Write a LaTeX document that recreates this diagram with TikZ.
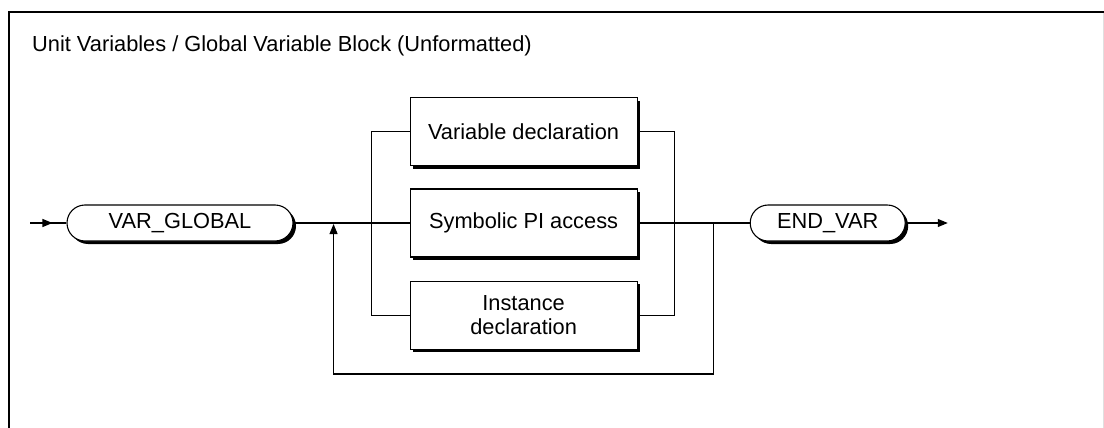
\documentclass[tikz,border=0pt]{standalone}
\usepackage{fontspec}
\setmainfont{Liberation Sans}
\usepackage{tikz}
\usetikzlibrary{shapes.misc,arrows.meta,positioning,shadows,calc}
\newcommand\diagfont{\fontsize{21.8}{24}\selectfont}
\tikzset{
  termnode/.style={rounded rectangle,draw=black,line width=1.1pt,fill=white,
    minimum height=36pt,inner sep=0pt,text centered,font=\diagfont,
    drop shadow={shadow xshift=3pt,shadow yshift=-3pt,fill=black,opacity=1}},
  rulenode/.style={rectangle,draw=black,line width=1.1pt,fill=white,
    minimum width=227pt,minimum height=68pt,inner sep=0pt,align=center,
    font=\diagfont,
    drop shadow={shadow xshift=3pt,shadow yshift=-3pt,fill=black,opacity=1}},
  line/.style={line width=1.1pt},
  arrow/.style={-{Triangle[length=10pt,width=8pt]},line width=1.1pt},
  framestyle/.style={line width=2.2pt},
}

\begin{document}
\begin{tikzpicture}[x=1pt,y=-1pt]

  \useasboundingbox (0,0) rectangle (1104,428);

  %% ── Frame and title ───────────────────────────────────────────────────────
  \draw[framestyle] (9,429) -- (9,12) -- (1104,12);
  \draw[black!12,line width=0.8pt] (1103.4,13) -- (1103.4,428);
  \node[anchor=base west,inner sep=0pt,font=\diagfont] (title) at (32,52)
    {Unit Variables / Global Variable Block (Unformatted)};

  %% ── Keywords and rule boxes ───────────────────────────────────────────────
  \node[termnode,minimum width=226pt] (vglobal) at (180,223) {VAR\_GLOBAL};
  \node[rulenode, right=116pt of vglobal] (symb)    {Symbolic PI access};
  \node[rulenode, above=22pt of symb]     (vardecl) {Variable declaration};
  \node[rulenode, below=23pt of symb]     (inst)    {Instance\\declaration};
  \node[termnode,minimum width=155pt, right=112pt of symb] (endvar) {END\_VAR};

  %% ── Junctions ─────────────────────────────────────────────────────────────
  \coordinate (entry) at (30,223);
  \coordinate (exit)  at ([xshift=42pt]endvar.east);
  \coordinate (loopL) at ([xshift=40pt]vglobal.east);
  \coordinate (brL)   at ([xshift=-38pt]symb.west);
  \coordinate (brR)   at ([xshift=37pt]symb.east);
  \coordinate (loopR) at ([xshift=76pt]symb.east);
  \coordinate (loopB) at (0,374);

  %% ── Connectors ────────────────────────────────────────────────────────────
  \draw[arrow] (entry) -- ([xshift=-14pt]vglobal.west);
  \draw[line]  (entry) -- (vglobal.west);
  \draw[line]  (vglobal.east) -- (symb.west);
  \draw[line]  (symb.east) -- (endvar.west);
  \draw[line]  (vardecl.west) -| (brL) |- (inst.west);
  \draw[line]  (vardecl.east) -| (brR) |- (inst.east);
  \draw[arrow] (endvar.east) -- (exit);

  %% ── Repeat loop ───────────────────────────────────────────────────────────
  \draw[arrow] (loopR) -- (loopR |- loopB) -| ([yshift=-1pt]loopL);

\end{tikzpicture}
\end{document}
